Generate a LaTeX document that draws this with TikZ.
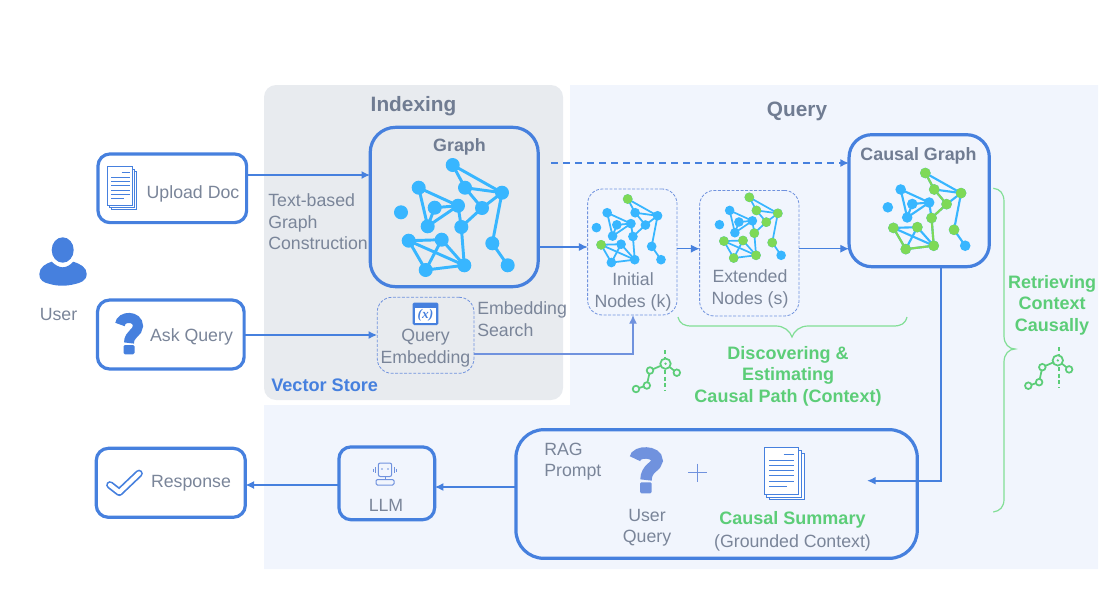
\documentclass[tikz,border=0pt]{standalone}
\usepackage{fontspec}
\setmainfont{Liberation Sans}
\usetikzlibrary{arrows.meta,calc}
\definecolor{linkblue}{RGB}{70,128,222}
\definecolor{softblue}{RGB}{112,146,222}
\definecolor{inkgray}{RGB}{122,133,153}
\definecolor{headgray}{RGB}{112,124,146}
\definecolor{netblue}{RGB}{56,182,255}
\definecolor{netgreen}{RGB}{126,217,87}
\definecolor{paleblue}{RGB}{241,245,253}
\definecolor{palegray}{RGB}{232,235,239}
\definecolor{leafgreen}{RGB}{92,205,120}
\definecolor{bracegreen}{RGB}{130,222,150}
\newcommand{\pxfont}[2]{\fontsize{#1}{#2}\selectfont}
\tikzset{
  card/.style={draw=linkblue,line width=2.4pt,fill=white,rounded corners=9pt,outer sep=0pt},
  panelcard/.style={card,fill=none},
  dashcard/.style={draw=softblue,line width=0.6pt,dash pattern=on 2.2pt off 1.2pt,rounded corners=11pt,fill=none,outer sep=0pt},
  caption/.style={text=inkgray,font=\pxfont{13.3}{16.1},align=center,inner sep=0pt},
  captionleft/.style={caption,align=left},
  heading/.style={text=headgray,font=\pxfont{15.6}{18}\bfseries,inner sep=0pt},
  subheading/.style={text=headgray,font=\pxfont{13.4}{15}\bfseries,inner sep=0pt},
  greenlabel/.style={text=leafgreen,font=\pxfont{13.5}{16.2}\bfseries,align=center,inner sep=0pt},
  link/.style={draw=linkblue,line width=1.25pt,-{Latex[length=6.5pt,width=6pt]}},
  thinlink/.style={draw=linkblue,line width=0.8pt,-{Latex[length=6.5pt,width=6pt]}},
  softlink/.style={draw=softblue,line width=1pt,-{Latex[length=6.5pt,width=6pt]}},
  greenbrace/.style={draw=bracegreen,line width=0.9pt,fill=none},
  pathglyph/.style={draw=leafgreen,line width=1.3pt},
}
% Network glyph: blue base drawing, then the listed edges and vertices repainted green.
\newcommand{\netglyph}[7]{%
  \begin{scope}[shift={(#2,#3)},scale=#4]
    \begin{scope}[shift={(-452.7,-165)}]
      \foreach \n/\px/\py in {a/452.7/165,b/465/187.7,c/502/192.7,d/418.7/187.7,e/434.7/207.7,f/458/205.7,
        g/482/208,h/401/212.3,i/427.7/226.3,j/461.3/227,k/408.7/240.7,l/441.7/239.7,m/492.3/243.3,
        n/425.7/270,o/464.3/265.3,p/507.7/265.3}
        {\coordinate (#1\n) at (\px,\py);}
      \foreach \s/\t in {a/c,a/b,b/c,b/g,c/g,g/j,c/m,m/p,d/f,d/i,e/f,e/i,i/f,f/j,j/o,k/l,k/n,k/o,l/n,l/o,n/o}
        {\draw[netblue,line width=#4*2.2pt] (#1\s) -- (#1\t);}
      \foreach \s/\t in {#5}
        {\draw[netgreen,line width=#4*2.2pt] (#1\s) -- (#1\t);}
      \foreach \n in {a,b,c,d,e,f,g,h,i,j,k,l,m,n,o,p}
        {\fill[netblue] (#1\n) circle (#7);}
      \foreach \n in {#6}
        {\fill[netgreen] (#1\n) circle (#7);}
    \end{scope}
  \end{scope}}
% Stack of three pages with ruled lines; the origin is the top left corner of the front page.
\newcommand{\pagestack}[5]{%
  \begin{scope}[shift={(#1,#2)},xscale=#3,yscale=#4,draw=#5,line width=0.6pt]
    \draw[fill=white] (15,17) rectangle (111,159);
    \draw[fill=white] (8,9) rectangle (104,151);
    \draw[fill=white] (0,0) rectangle (96,142);
    \foreach \ya/\xa/\xb in {22/54/84,38/14/84,54/14/84,70/14/84,86/14/84,102/14/84,118/14/64}
      {\draw[line width=0.6pt] (\xa,\ya) -- (\xb,\ya);}
  \end{scope}}
% Causal path glyph: chain of ring vertices with a dashed axis through the last but one.
\newcommand{\pathmark}[5]{%
  \begin{scope}[shift={(#1,#2)}]
    \draw[pathglyph,dash pattern=on 3pt off 2pt] (#3,#4) -- (#3,#5);
    \coordinate (pa) at (0,0);
    \coordinate (pb) at (10.8,-3.5);
    \coordinate (pc) at (14,-18.5);
    \coordinate (pd) at (29.5,-25.3);
    \coordinate (pe) at (40.8,-16.3);
    \draw[pathglyph] (pa) -- (pb) -- (pc) -- (pd) -- (pe);
    \foreach \q in {pa,pb,pc,pe}
      {\draw[pathglyph,fill=paleblue] (\q) circle (3.3);}
    \draw[pathglyph,fill=paleblue] (pd) circle (5.2);
    \fill[leafgreen] (pd) circle (1.3);
  \end{scope}}
\begin{document}
\begin{tikzpicture}[x=0.75pt,y=-0.75pt]
\useasboundingbox (0,0) rectangle (1120,600);

% Working areas
\fill[paleblue] (570,85) -- (1098,85) -- (1098,569) -- (264,569) -- (264,405) -- (570,405) -- cycle;
\fill[palegray,rounded corners=9pt] (264,85) rectangle (563,400);

% Boxes
\node[card,minimum width=111.5pt,minimum height=51.5pt] (upload) at (172.3,188.3) {};
\node[card,minimum width=110pt,minimum height=51.7pt] (ask) at (170.8,334.5) {};
\node[card,minimum width=111.8pt,minimum height=51.7pt] (response) at (170.8,482.8) {};
\node[card,fill=paleblue,minimum width=71.8pt,minimum height=54.6pt] (llm) at (386.8,483.3) {};
\node[panelcard,rounded corners=19pt,minimum width=126pt,minimum height=119.5pt] (graph) at (454.2,207) {};
\node[panelcard,rounded corners=17pt,minimum width=105.2pt,minimum height=99pt] (causal) at (919.2,200.7) {};
\node[panelcard,rounded corners=21pt,minimum width=301pt,minimum height=96.5pt] (rag) at (716.6,494) {};
\node[dashcard,minimum width=67pt,minimum height=94.5pt] (initial) at (632.3,252) {};
\node[dashcard,minimum width=74.5pt,minimum height=94.2pt] (extended) at (749.3,253.2) {};
\node[dashcard,minimum width=72.5pt,minimum height=57pt] (qembed) at (425.6,335.3) {};

% Network glyphs
\netglyph{big}{452.7}{165}{1}{}{}{7}
\netglyph{ini}{627.7}{199}{0.605}{}{a,k}{8}
\netglyph{ext}{749.3}{197.3}{0.578}{}{a,b,c,g,j,k,l,m,n,o}{8.3}
\netglyph{cau}{925.3}{173}{0.725}{a/b,b/g,g/j,j/o,k/n,n/o}{a,b,c,g,j,k,l,m,n,o}{7.3}

% User figure
\fill[linkblue] (62.7,250) ellipse (11 and 12.7);
\fill[linkblue] (51.7,261.7) .. controls (55,265) and (59,267.3) .. (62.7,267.3)
  .. controls (66.5,267.3) and (70.5,265) .. (73.3,261.7)
  .. controls (79,263.5) and (87,267) .. (86.7,274)
  .. controls (86.5,281) and (80,283) .. (75,284)
  .. controls (68,286) and (58,286.5) .. (50,284)
  .. controls (44,283) and (39,280) .. (39.3,274)
  .. controls (39.5,267) and (46,263.5) .. (51.7,261.7) -- cycle;

% Upload document icon
\pagestack{107.3}{166.7}{0.265}{0.27}{linkblue}

% Question marks
\begin{scope}[shift={(129,335)}]
  \draw[linkblue,line width=7.5pt,line cap=butt] (-9,-10.5)
    .. controls (-8,-19.5) and (9,-19.5) .. (9,-9)
    .. controls (9,-2) and (0,-1.5) .. (0,8);
  \fill[linkblue,rounded corners=1pt] (-5.5,10) rectangle (5.5,19.3);
\end{scope}
\begin{scope}[shift={(646,465.7)}]
  \draw[softblue,line width=8.6pt,line cap=butt] (-11,-7)
    .. controls (-10,-15) and (11,-15) .. (11,-5)
    .. controls (11,1) and (0,2) .. (0,14.3);
  \fill[softblue,rounded corners=1pt] (-6,16.6) rectangle (5.7,27.6);
\end{scope}

% Embedding icon
\fill[linkblue,rounded corners=1pt] (412.7,302.7) rectangle (438.3,325);
\fill[white] (414.7,307.5) rectangle (436.3,323);
\node[inner sep=0pt,text=linkblue,font=\fontspec{Liberation Serif}\bfseries\itshape\pxfont{10}{12}] (xglyph) at (425.5,315.3) {(x)};

% Robot icon
\begin{scope}[draw=softblue,line width=0.75pt]
  \draw[rounded corners=1.5pt] (378.3,463) rectangle (391.7,476.5);
  \draw (385,476.5) -- (385,479);
  \draw[rounded corners=1pt] (376,479.5) rectangle (394,485);
  \fill[softblue] (382,469) circle (0.9) (388,469) circle (0.9);
  \draw (375.8,467) -- (375.8,473) (373.4,468.5) -- (373.4,471.5);
  \draw (394.2,467) -- (394.2,473) (396.6,468.5) -- (396.6,471.5);
\end{scope}

% Check mark
\draw[linkblue,line width=5.8pt,line cap=round,line join=round] (110,485) -- (119.3,492.2) -- (139,473.5);
\draw[white,line width=3.2pt,line cap=round,line join=round] (110,485) -- (119.3,492.2) -- (139,473.5);

% RAG prompt contents
\draw[softblue,line width=0.65pt] (688,472.7) -- (707,472.7);
\draw[softblue,line width=0.65pt] (697.3,463.5) -- (697.3,482);
\pagestack{764}{447.7}{0.361}{0.326}{linkblue}

% Connectors
\coordinate (uploadout) at (247.3,175);
\draw[link] (uploadout) -- (graph.west |- uploadout);
\coordinate (askout) at (244.3,335);
\draw[link] (askout) -- (qembed.west |- askout);
\coordinate (graphdash) at (551,163);
\draw[link,line width=1.5pt,dash pattern=on 5.5pt off 3.5pt] (graphdash) -- (causal.west |- graphdash);
\coordinate (graphout) at (538.3,247);
\draw[thinlink] (graphout) -- (initial.west |- graphout);
\coordinate (iniout) at (677,248.7);
\draw[thinlink] (iniout) -- (extended.west |- iniout);
\coordinate (extout) at (799,248.7);
\draw[thinlink] (extout) -- (causal.west |- extout);
\coordinate (embedout) at (474,354);
\coordinate (embedturn) at (633,354);
\draw[softlink] (embedout) -- (embedturn) -- (embedturn |- initial.south);
\coordinate (causalout) at (941,266.7);
\coordinate (causalturn) at (941,480.7);
\coordinate (ragin) at (867,480.7);
\draw[link] (causalout) -- (causalturn) -- (ragin);
\coordinate (ragout) at (516,487);
\draw[link] (ragout) -- (llm.east |- ragout);
\coordinate (llmout) at (338.7,485);
\draw[link] (llmout) -- (response.east |- llmout);

% Braces
\draw[greenbrace] (678,317) .. controls (680,324) and (684,326) .. (692,326)
  -- (776,326) .. controls (784,326) and (790,331) .. (792,337)
  .. controls (794,331) and (800,326) .. (808,326)
  -- (893,326) .. controls (901,326) and (905,324) .. (907,317);
\draw[greenbrace] (993.3,188.3) .. controls (1000,189) and (1004,193) .. (1004,202)
  -- (1004,336) .. controls (1004,344) and (1009,349) .. (1015,349)
  .. controls (1009,349) and (1004,354) .. (1004,362)
  -- (1004,499) .. controls (1004,507) and (1000,511) .. (993.3,512);

% Causal path glyphs
\pathmark{636}{389}{29.3}{-39}{2}
\pathmark{1028.3}{385.7}{30.4}{-38.7}{1.5}

% Labels
\node[heading] (indexinglabel) at (413.5,106.5) {Indexing};
\node[heading] (querylabel) at (797,111) {Query};
\node[subheading] (graphlabel) at (459.5,146.5) {Graph};
\node[subheading] (causallabel) at (918.5,155.5) {Causal Graph};
\node[caption] (uploadlabel) at (193,193.5) {Upload Doc};
\node[caption] (asklabel) at (191.5,337) {Ask Query};
\node[caption] (userlabel) at (58.5,314.5) {User};
\node[caption] (responselabel) at (191,483.5) {Response};
\node[caption] (llmlabel) at (386,505) {LLM};
\node[captionleft,anchor=west] (buildlabel) at (268,222) {Text-based\\Graph\\Construction};
\node[captionleft,anchor=west] (searchlabel) at (477,319) {Embedding\\Search};
\node[text=linkblue,font=\pxfont{13.6}{15}\bfseries,inner sep=0pt,anchor=west] (storelabel) at (271,385.5) {Vector Store};
\node[caption] (embedlabel) at (425.5,348) {Query\\Embedding};
\node[caption] (initiallabel) at (633,292) {Initial\\Nodes (k)};
\node[caption] (extendedlabel) at (750,289) {Extended\\Nodes (s)};
\node[greenlabel] (discoverlabel) at (788,376) {Discovering \&\\Estimating\\Causal Path (Context)};
\node[greenlabel] (retrievelabel) at (1052,305) {Retrieving\\Context\\Causally};
\node[captionleft,anchor=west] (raglabel) at (544,461.5) {RAG\\Prompt};
\node[caption] (userquerylabel) at (647,527.5) {User\\Query};
\node[greenlabel] (summarylabel) at (792.5,520) {Causal Summary};
\node[caption] (groundedlabel) at (792.5,542.5) {(Grounded Context)};
\end{tikzpicture}
\end{document}
